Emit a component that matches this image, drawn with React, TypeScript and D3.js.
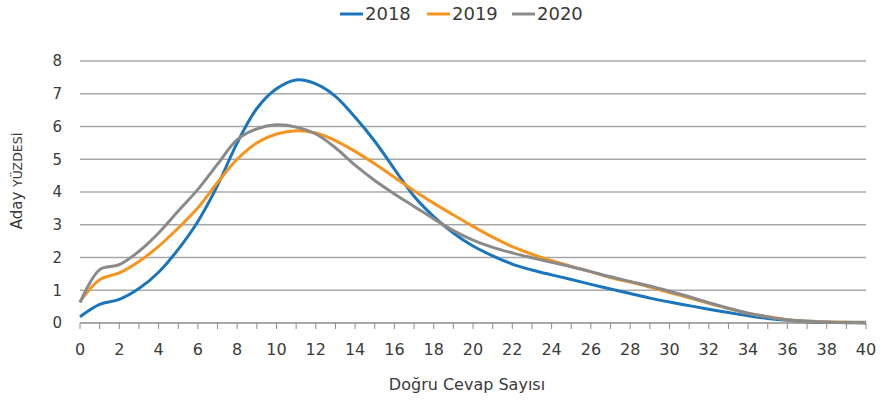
import React from 'react';
import * as d3 from 'd3';

// answer counts 0..40
const correctCounts = d3.range(0, 41);

const series2018 = [
  0.19, 0.57, 0.72, 1.05, 1.55, 2.25, 3.1, 4.2, 5.5, 6.55,
  7.15, 7.42, 7.3, 6.92, 6.28, 5.55, 4.7, 3.87, 3.25, 2.75,
  2.35, 2.05, 1.8, 1.62, 1.47, 1.33, 1.18, 1.04, 0.9, 0.76,
  0.64, 0.53, 0.42, 0.32, 0.22, 0.14, 0.08, 0.04, 0.02, 0.01, 0.0,
];
const series2019 = [
  0.65, 1.32, 1.53, 1.88, 2.34, 2.9, 3.52, 4.29, 5.0, 5.5,
  5.77, 5.87, 5.8, 5.57, 5.24, 4.86, 4.45, 4.04, 3.66, 3.3,
  2.95, 2.62, 2.33, 2.1, 1.9, 1.73, 1.56, 1.39, 1.25, 1.1,
  0.93, 0.77, 0.6, 0.44, 0.3, 0.19, 0.1, 0.05, 0.03, 0.02, 0.01,
];
const series2020 = [
  0.62, 1.63, 1.78, 2.19, 2.75, 3.42, 4.08, 4.85, 5.6, 5.93,
  6.05, 5.98, 5.77, 5.35, 4.82, 4.35, 3.94, 3.56, 3.18, 2.82,
  2.53, 2.31, 2.14, 1.99, 1.85, 1.72, 1.57, 1.41, 1.27, 1.13,
  0.97, 0.8, 0.62, 0.45, 0.3, 0.19, 0.1, 0.06, 0.03, 0.02, 0.02,
];

const seriesNames = ['2018', '2019', '2020'];
const seriesColors = ['#1b75bc', '#f7941d', '#8a8a8a'];
const yTicks = [0, 1, 2, 3, 4, 5, 6, 7, 8];
const xTickLabels = d3.range(0, 41, 2);

const W = 882;
const H = 400;
const margin = { top: 61, right: 16, bottom: 77, left: 80 };
const font = '"DejaVu Sans", Verdana, sans-serif';
const textColor = '#3a3a3a';

export default function App() {
  const x = d3.scaleLinear().domain([0, 40]).range([margin.left, W - margin.right]);
  const y = d3.scaleLinear().domain([0, 8]).range([H - margin.bottom, margin.top]);

  const line = d3
    .line<number>()
    .x((_, i) => x(correctCounts[i]))
    .y((d) => y(d))
    .curve(d3.curveCatmullRom.alpha(0.5));

  const allSeries = [series2018, series2019, series2020];
  const legendX = [340, 427, 512];

  return (
    <svg
      width={W}
      height={H}
      style={{ position: 'absolute', left: 0, top: 0, background: '#fff' }}
      fontFamily={font}
    >
      {/* legend */}
      {seriesNames.map((name, i) => (
        <g key={name} transform={`translate(${legendX[i]},14)`}>
          <line x1={0} x2={23} y1={0} y2={0} stroke={seriesColors[i]} strokeWidth={3} />
          <text x={25} y={0} dy="0.36em" fontSize={18} fill={textColor}>
            {name}
          </text>
        </g>
      ))}

      {/* gridlines */}
      {yTicks.filter((t) => t > 0).map((t) => (
        <line
          key={t}
          x1={x(0)}
          x2={x(40)}
          y1={y(t)}
          y2={y(t)}
          stroke="#a8a8a8"
          strokeWidth={1.3}
        />
      ))}

      {/* y tick labels */}
      {yTicks.map((t) => (
        <text
          key={t}
          x={62}
          y={y(t)}
          dy="0.36em"
          textAnchor="end"
          fontSize={15}
          fill={textColor}
        >
          {t}
        </text>
      ))}

      {/* x axis */}
      <line x1={x(0)} x2={x(40)} y1={y(0)} y2={y(0)} stroke="#8c8c8c" strokeWidth={1.3} />
      {correctCounts.map((c) => (
        <line key={c} x1={x(c)} x2={x(c)} y1={y(0)} y2={y(0) + 6} stroke="#8c8c8c" strokeWidth={1} />
      ))}
      {xTickLabels.map((c) => (
        <text key={c} x={x(c)} y={349} dy="0.36em" textAnchor="middle" fontSize={16} fill={textColor}>
          {c}
        </text>
      ))}

      {/* series */}
      {allSeries.map((s, i) => (
        <path
          key={seriesNames[i]}
          d={line(s) || ''}
          fill="none"
          stroke={seriesColors[i]}
          strokeWidth={3}
          strokeLinejoin="round"
        />
      ))}

      {/* axis titles */}
      <text x={467} y={384} dy="0.36em" textAnchor="middle" fontSize={16} fill={textColor}>
        Doğru Cevap Sayısı
      </text>
      <text
        transform={`translate(17,${181}) rotate(-90)`}
        textAnchor="middle"
        dy="0.36em"
        fontSize={15}
        fill={textColor}
      >
        Aday <tspan fontSize={12.5}>YÜZDESİ</tspan>
      </text>
    </svg>
  );
}
